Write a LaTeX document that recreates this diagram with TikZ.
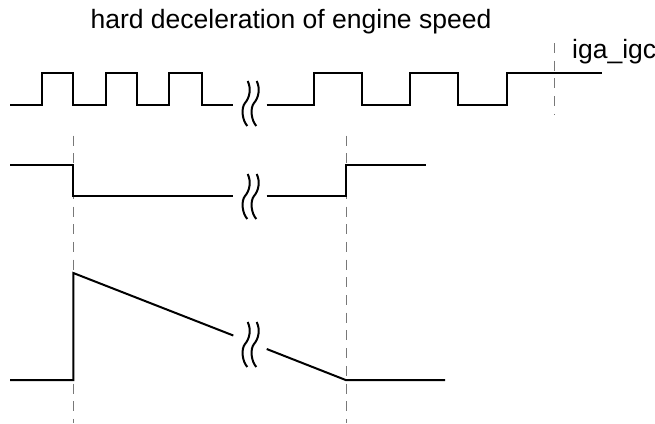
\documentclass[tikz,border=0pt]{standalone}
\usepackage{fontspec}
\setmainfont{Liberation Sans}
\begin{document}
\begin{tikzpicture}[x=1pt,y=-1pt,
  sig/.style={line width=2pt,black,line join=miter},
  guide/.style={line width=1pt,color={rgb,255:red,120;green,120;blue,120},dash pattern=on 10pt off 7.7pt},
  brk/.style={line width=2pt,black},
  lbl/.style={inner sep=0pt,font=\fontsize{26.5}{31}\selectfont}]
\useasboundingbox (0,0) rectangle (655,423);
% guides
\draw[guide] (73,135.7) -- (73,423);
\draw[guide] (346,135.7) -- (346,423);
\draw[guide] (554,43) -- (554,115);
% top signal
\draw[sig] (10,105) -- (41.7,105) -- (41.7,73.3) -- (73.3,73.3) -- (73.3,105) -- (105.7,105) -- (105.7,73.3) -- (137.3,73.3) -- (137.3,105) -- (169.3,105) -- (169.3,73.3) -- (202.3,73.3) -- (202.3,105) -- (233.3,105);
\draw[sig] (266.7,105) -- (314,105) -- (314,73.3) -- (362.3,73.3) -- (362.3,105) -- (410,105) -- (410,73.3) -- (458.3,73.3) -- (458.3,105) -- (506.7,105) -- (506.7,73.3) -- (601.7,73.3);
% middle signal
\draw[sig] (10,165) -- (73.3,165) -- (73.3,196) -- (233.3,196);
\draw[sig] (266.7,196) -- (345.7,196) -- (345.7,165) -- (426,165);
% bottom signal
\draw[sig] (10,380) -- (73.3,380) -- (73.3,273) -- (233.3,335.5);
\draw[sig] (266.7,349) -- (345.7,380) -- (445,380);
% breaks
\foreach \cy in {103,196,344}{
  \foreach \cx in {245,254}{
    \draw[brk] (\cx+2.7,\cy-22) .. controls (\cx+6.5,\cy-14) and (\cx+4.5,\cy-5) .. (\cx,\cy) .. controls (\cx-4,\cy+5) and (\cx-3,\cy+17) .. (\cx+2.3,\cy+23);
  }
}
% labels
\node[lbl,anchor=base] (title) at (291,28) {hard deceleration of engine speed};
\node[lbl,anchor=base west] (sig) at (572,58) {iga\_igc};
\end{tikzpicture}
\end{document}
